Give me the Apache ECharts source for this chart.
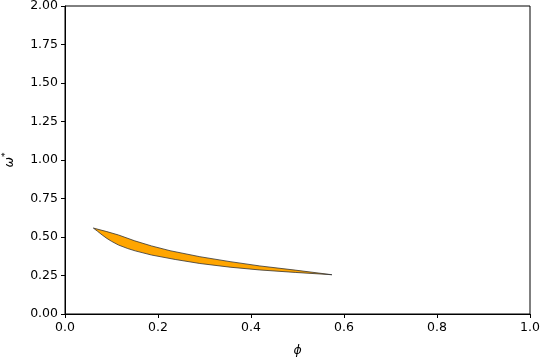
<!DOCTYPE html>
<html>
<head>
<meta charset="utf-8">
<script src="https://cdn.jsdelivr.net/npm/echarts@6/dist/echarts.min.js"></script>
<style>html,body{margin:0;padding:0;background:#fff}#c{width:540px;height:360px}</style>
</head>
<body>
<div id="c"></div>
<script>
// Upper boundary of the region (phi, omega*)
var upperX = [0.061, 0.090, 0.115, 0.150, 0.186, 0.226, 0.290, 0.355, 0.419, 0.495, 0.574];
var upperY = [0.558, 0.535, 0.513, 0.475, 0.442, 0.411, 0.372, 0.340, 0.312, 0.285, 0.255];
// Lower boundary of the region (phi, omega*)
var lowerX = [0.061, 0.070, 0.080, 0.090, 0.100, 0.115, 0.135, 0.151, 0.186, 0.237, 0.290, 0.355, 0.419, 0.495, 0.574];
var lowerY = [0.558, 0.537, 0.513, 0.491, 0.472, 0.448, 0.425, 0.410, 0.383, 0.354, 0.328, 0.304, 0.286, 0.270, 0.255];
var xTicks = [0, 0.2, 0.4, 0.6, 0.8, 1.0];
var yTicks = [0, 0.25, 0.5, 0.75, 1.0, 1.25, 1.5, 1.75, 2.0];

var poly = [];
for (var i = 0; i < upperX.length; i++) poly.push([upperX[i], upperY[i]]);
for (var j = lowerX.length - 1; j >= 0; j--) poly.push([lowerX[j], lowerY[j]]);

var font = 'DejaVu Sans';
var chart = echarts.init(document.getElementById('c'), null, {renderer: 'canvas'});
chart.setOption({
  animation: false,
  grid: {left: 65, right: 10, top: 6, bottom: 46, containLabel: false, outerBoundsMode: 'none',
    show: true, borderColor: '#000', borderWidth: 1, backgroundColor: 'transparent'},
  xAxis: {
    type: 'value', min: 0, max: 1, interval: 0.2,
    name: 'ϕ', nameLocation: 'middle', nameGap: 30,
    nameTextStyle: {fontFamily: font, fontSize: 12.5, fontStyle: 'italic', color: '#000'},
    axisLine: {show: true, lineStyle: {color: '#000', width: 1}},
    axisTick: {show: true, length: 4, lineStyle: {color: '#000'}},
    axisLabel: {fontFamily: font, fontSize: 12.5, color: '#000', margin: 7,
      formatter: function (v) { return v.toFixed(1); }},
    splitLine: {show: false}
  },
  yAxis: {
    type: 'value', min: 0, max: 2, interval: 0.25,
    name: '{a|ω}{s|*}', nameLocation: 'middle', nameGap: 47, nameRotate: 90,
    nameTextStyle: {fontFamily: font, fontSize: 12.5, color: '#000',
      rich: {a: {fontFamily: font, fontSize: 12.5, fontStyle: 'italic', color: '#000'},
             s: {fontFamily: font, fontSize: 9, color: '#000', verticalAlign: 'top', padding: [0, 0, 8, 0]}}},
    axisLine: {show: true, lineStyle: {color: '#000', width: 1}},
    axisTick: {show: true, length: 4, lineStyle: {color: '#000'}},
    axisLabel: {fontFamily: font, fontSize: 12.5, color: '#000', margin: 7,
      formatter: function (v) { return v.toFixed(2); }},
    splitLine: {show: false}
  },
  series: [{
    type: 'custom',
    coordinateSystem: 'cartesian2d',
    data: [[0, 0]],
    clip: true,
    renderItem: function (params, api) {
      var pts = poly.map(function (p) { return api.coord(p); });
      return {
        type: 'polygon',
        shape: {points: pts},
        style: {fill: '#FFA500', stroke: '#333', lineWidth: 0.8}
      };
    }
  }]
});
</script>
</body>
</html>
